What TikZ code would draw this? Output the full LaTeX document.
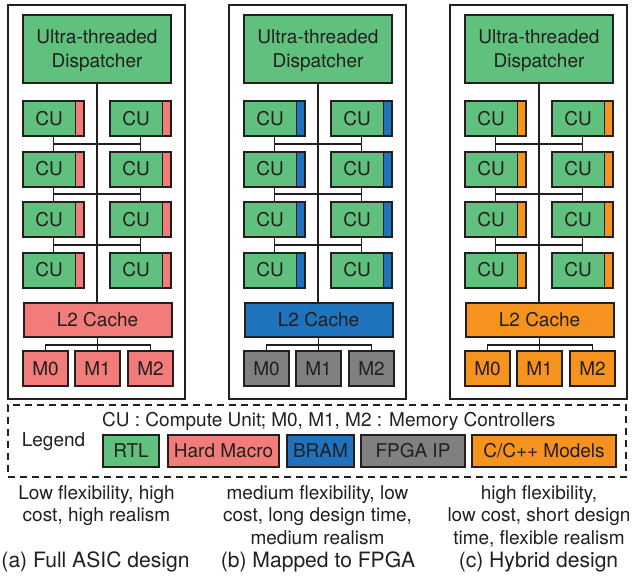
\documentclass[tikz,border=0pt]{standalone}
\usepackage{fontspec}
\setmainfont{TeX Gyre Heros}
\usetikzlibrary{calc}
\definecolor{cgreen}{RGB}{96,192,125}
\definecolor{cred}{RGB}{241,124,121}
\definecolor{cblue}{RGB}{31,114,188}
\definecolor{cgray}{RGB}{128,128,128}
\definecolor{corange}{RGB}{246,146,30}
\definecolor{cline}{RGB}{35,31,32}
\definecolor{ctext}{RGB}{35,31,32}
\newcommand\myfont{\fontsize{19}{22.7}\selectfont}
\newcommand\mydispfont{\fontsize{19}{24}\selectfont}
\newcommand\mycapfont{\fontsize{21.1}{24}\selectfont}
\tikzset{
  box/.style={draw=cline, line width=2pt, inner sep=0pt, text=ctext, font=\myfont},
  cu/.style={box, fill=cgreen, minimum width=61pt, minimum height=35pt,
    path picture={
      \fill[#1] ($(path picture bounding box.north east)+(-9pt,0)$) rectangle (path picture bounding box.south east);
      \draw[cline, line width=0.8pt] ($(path picture bounding box.north east)+(-9pt,0)$) -- ($(path picture bounding box.south east)+(-9pt,0)$);
    }},
  wire/.style={draw=cline, line width=1.6pt},
  panelbox/.style={draw=cline, line width=1.5pt, minimum width=177pt, minimum height=394pt, inner sep=0pt},
  bodytext/.style={inner sep=0pt, text=ctext, font=\myfont, align=center},
  captext/.style={inner sep=0pt, text=ctext, font=\mycapfont},
}
\newcommand\drawpanel[5]{%
\begin{scope}[xshift=#1pt]
  \node[panelbox] (#2box) at (96.5,202) {};
  \node[box, fill=cgreen, minimum width=148pt, minimum height=68pt, align=center, font=\mydispfont, text depth=0pt] (#2disp) at (97,49) {Ultra-threaded\\Dispatcher};
  \foreach \rr/\yy in {1/118.5,2/169,3/219.5,4/270}{
    \node[cu=#3] (#2l\rr) at (53.5,\yy) {CU\hspace*{9pt}};
    \node[cu=#3] (#2r\rr) at (140.5,\yy) {CU\hspace*{9pt}};
  }
  \node[box, fill=#4, minimum width=148pt, minimum height=34pt] (#2ltwo) at (97.5,320) {L2 Cache};
  \node[box, fill=#5, minimum width=45pt, minimum height=35pt] (#2m0) at (45.5,368.5) {M0};
  \node[box, fill=#5, minimum width=45pt, minimum height=35pt] (#2m1) at (97.5,368.5) {M1};
  \node[box, fill=#5, minimum width=45pt, minimum height=35pt] (#2m2) at (150.5,368.5) {M2};
  \draw[wire] (#2disp.south) -- (#2disp.south |- #2ltwo.north);
  \foreach \aa/\bb in {1/2,2/3,3/4}{
    \draw[wire] (#2l\aa.south) -- (#2l\bb.north);
    \draw[wire] (#2r\aa.south) -- (#2r\bb.north);
    \draw[wire] ($(#2l\aa.south)!0.5!(#2l\bb.north)$) -- ($(#2r\aa.south)!0.5!(#2r\bb.north)$);
  }
  \coordinate (#2mj) at ($(#2ltwo.south)+(0,7)$);
  \draw[wire] (#2ltwo.south) -- (#2m1.north);
  \draw[wire] (#2m0.north) |- (#2mj) -| (#2m2.north);
\end{scope}}
\begin{document}
\begin{tikzpicture}[x=1pt,y=-1pt]
\useasboundingbox[fill=white] (0,0) rectangle (633,579);
\drawpanel{0}{a}{cred}{cred}{cred}
\drawpanel{221}{b}{cblue}{cblue}{cgray}
\drawpanel{442}{c}{corange}{corange}{corange}
% legend
\node[draw=cline, line width=1.5pt, dash pattern=on 7pt off 5pt, minimum width=618pt, minimum height=72pt, inner sep=0pt] (legendbox) at (317,441) {};
\node[captext, font=\myfont, anchor=base] (legendlabel) at (53.5,446) {Legend};
\node[captext, font=\myfont, anchor=base west] (legendnote) at (102,426.5) {CU : Compute Unit; M0, M1, M2 : Memory Controllers};
\node[box, fill=cgreen, minimum width=56pt, minimum height=32pt] (lgrtl) at (131,451) {RTL};
\node[box, fill=cred, minimum width=111pt, minimum height=32pt] (lghard) at (223.5,451) {Hard Macro};
\node[box, fill=cblue, minimum width=67pt, minimum height=32pt] (lgbram) at (320.5,451) {BRAM};
\node[box, fill=cgray, minimum width=104pt, minimum height=32pt] (lgfpga) at (413,451) {FPGA IP};
\node[box, fill=corange, minimum width=144pt, minimum height=32pt] (lgmodel) at (544,451) {C/C++ Models};
% descriptions
\node[bodytext, anchor=north] (desca) at (96.5,485) {Low flexibility, high\\cost, high realism};
\node[bodytext, anchor=north] (descb) at (317.5,485) {medium flexibility, low\\cost, long design time,\\medium realism};
\node[bodytext, anchor=north] (descc) at (539,485) {high flexibility,\\low cost, short design\\time, flexible realism};
\node[captext, anchor=base] (capa) at (95.5,567) {(a) Full ASIC design};
\node[captext, anchor=base] (capb) at (318,567) {(b) Mapped to FPGA};
\node[captext, anchor=base] (capc) at (538.5,567) {(c) Hybrid design};
\end{tikzpicture}
\end{document}
